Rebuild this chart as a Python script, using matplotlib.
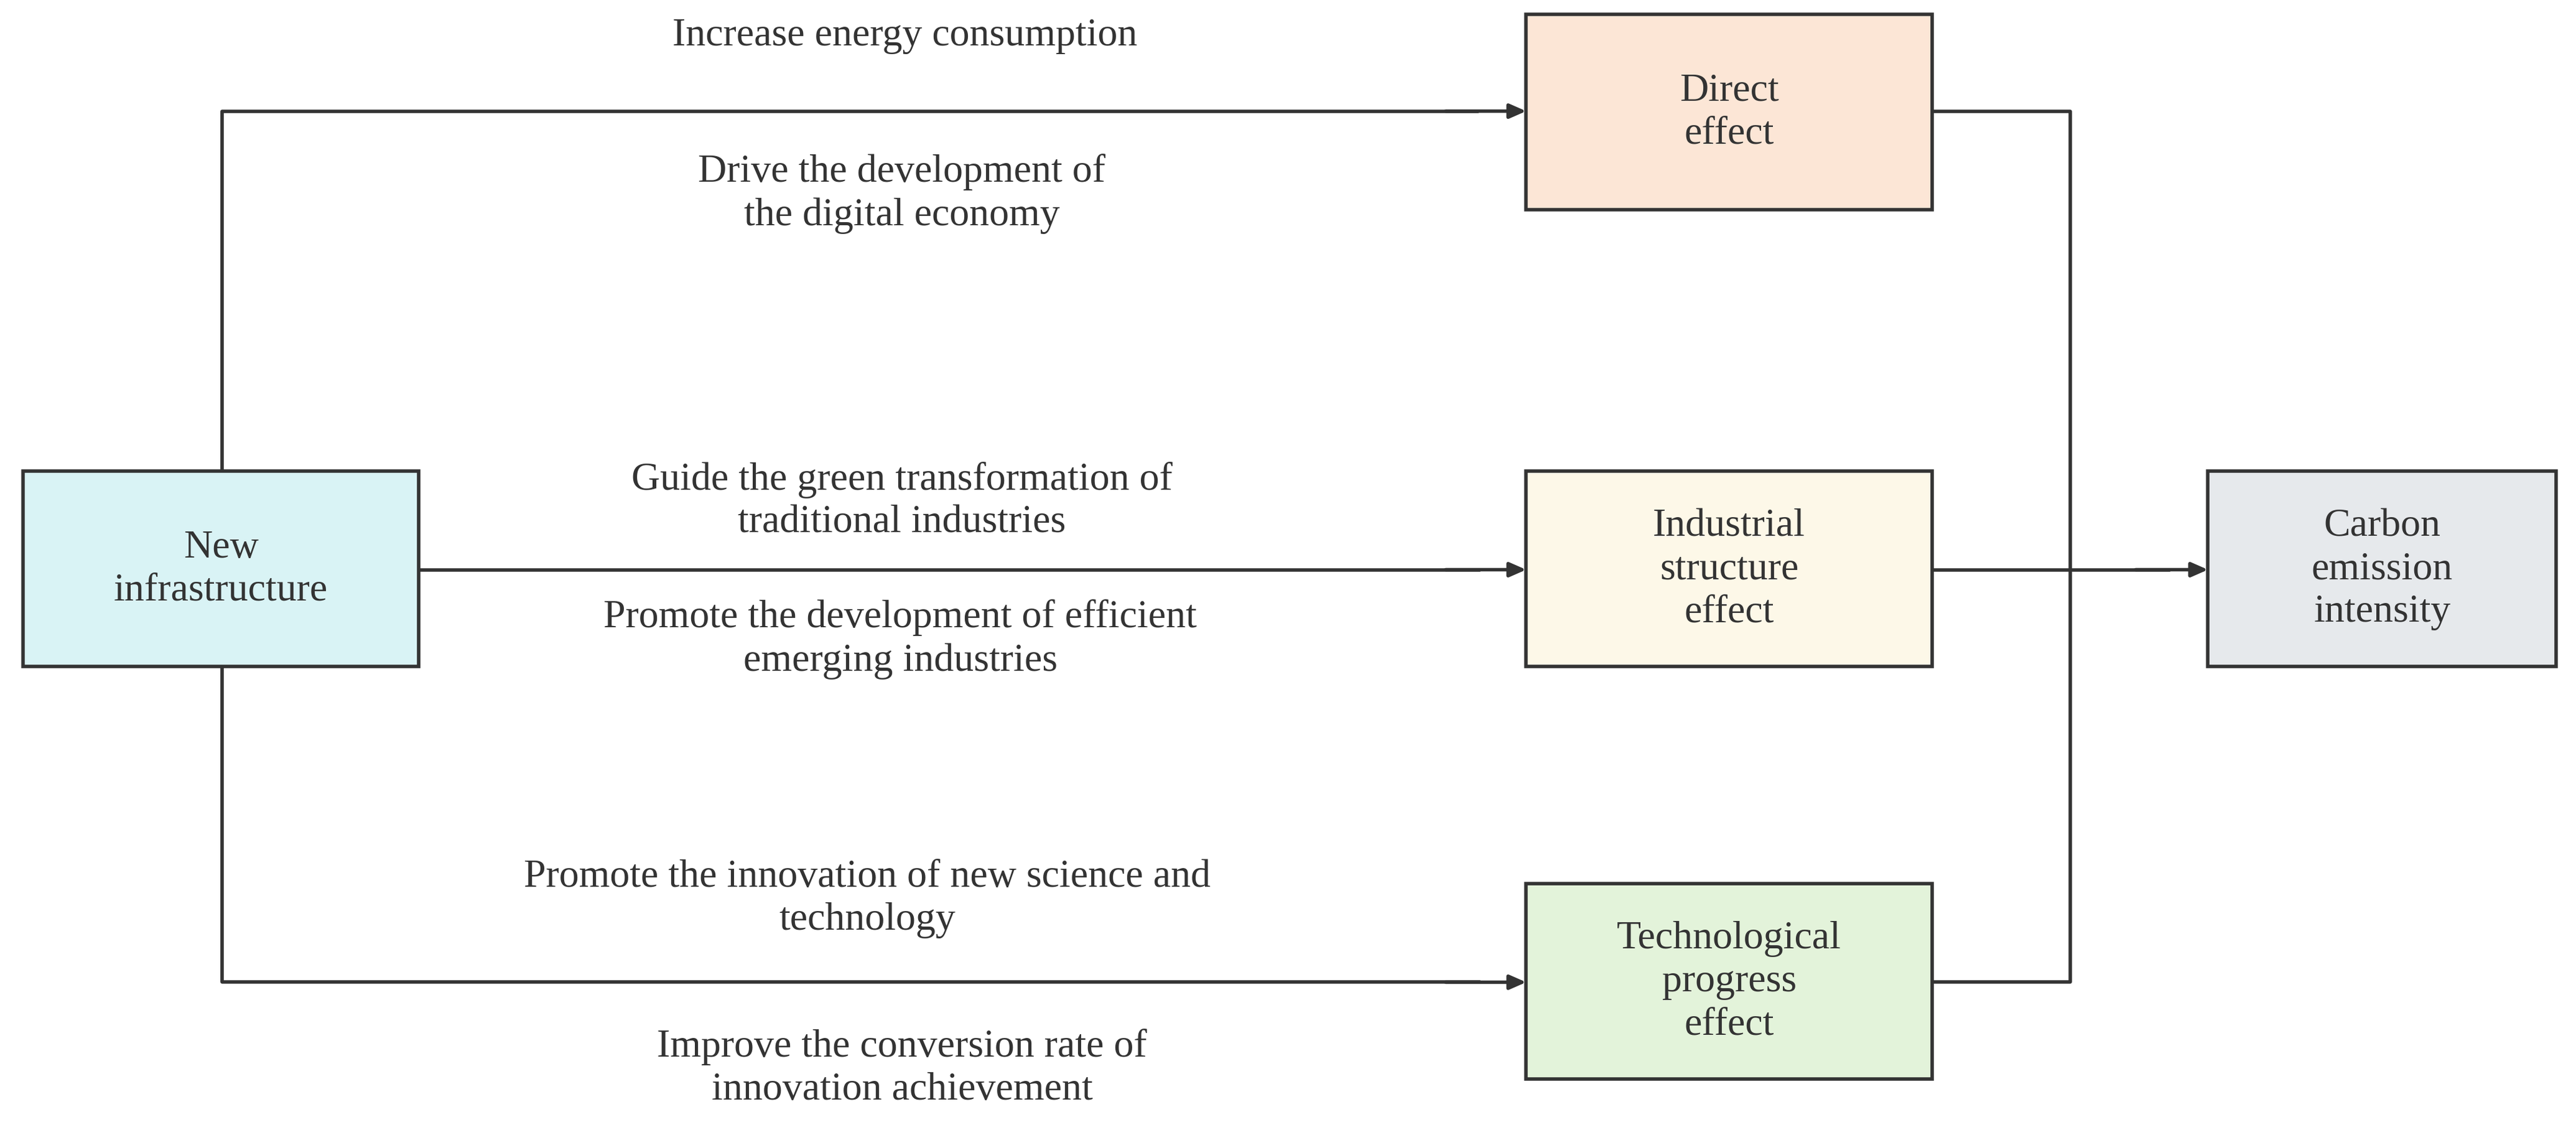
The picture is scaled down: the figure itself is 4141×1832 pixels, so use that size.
import matplotlib.pyplot as plt
from matplotlib.patches import Rectangle

# diagram content
box_labels = ['New\ninfrastructure', 'Direct\neffect', 'Industrial\nstructure\neffect',
              'Technological\nprogress\neffect', 'Carbon\nemission\nintensity']
box_colors = ['#d9f3f5', '#fce6d6', '#fdf8e8', '#e3f3da', '#e6e9ec']
edge_labels = ['Increase energy consumption',
               'Drive the development of\nthe digital economy',
               'Guide the green transformation of\ntraditional industries',
               'Promote the development of efficient\nemerging industries',
               'Promote the innovation of new science and\ntechnology',
               'Improve the conversion rate of\ninnovation achievement']

# layout (in reference pixel units, 1568 x 694)
box_xy = [(14, 287, 241, 119), (929, 9, 247, 119), (929, 287, 247, 119),
          (929, 538, 247, 119), (1344, 287, 212, 119)]
label_xy = [(551, 22), (549, 118), (549, 305), (548, 389), (528, 547), (549, 650)]

plt.rcParams['font.family'] = ['Liberation Serif', 'DejaVu Serif']
fig = plt.figure(figsize=(41.41, 18.33), dpi=100)
ax = fig.add_axes([0, 0, 1, 1])
ax.set_xlim(0, 1568)
ax.set_ylim(694, 0)
ax.axis('off')

lc = '#333333'
lw = 4
fs = 46

def arrow(x0, y0, x1, y1):
    ax.annotate('', xy=(x1, y1), xytext=(x0, y0),
                arrowprops=dict(arrowstyle='-|>,head_length=1.6,head_width=0.7',
                                color=lc, lw=lw, shrinkA=0, shrinkB=0))

# left side connectors
ax.plot([135, 135, 900], [287, 68, 68], color=lc, lw=lw, solid_capstyle='butt')
arrow(880, 68, 929, 68)
ax.plot([255, 900], [347, 347], color=lc, lw=lw)
arrow(880, 347, 929, 347)
ax.plot([135, 135, 900], [406, 598, 598], color=lc, lw=lw)
arrow(880, 598, 929, 598)

# right side connectors
ax.plot([1176, 1260, 1260, 1176], [68, 68, 598, 598], color=lc, lw=lw)
ax.plot([1176, 1320], [347, 347], color=lc, lw=lw)
arrow(1300, 347, 1344, 347)

for (x, y, w, h), lab, col in zip(box_xy, box_labels, box_colors):
    ax.add_patch(Rectangle((x, y), w, h, facecolor=col, edgecolor=lc, lw=lw, zorder=3))
    ax.text(x + w / 2, y + h / 2, lab, ha='center', va='center', fontsize=fs,
            color=lc, linespacing=1.25, zorder=4)

for (x, y), lab in zip(label_xy, edge_labels):
    ax.text(x, y, lab, ha='center', va='center', fontsize=fs, color=lc, linespacing=1.25)

fig.savefig('out.png', dpi=100, facecolor='white')
